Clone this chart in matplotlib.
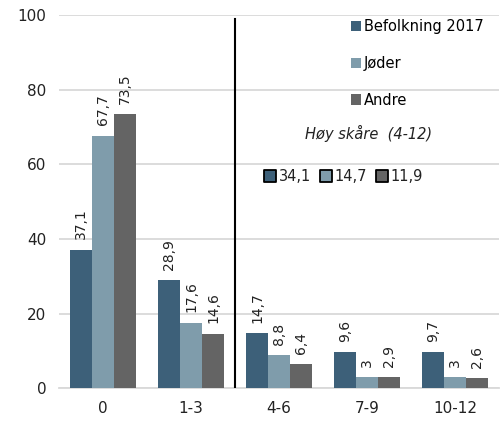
import numpy as np
import matplotlib
matplotlib.use('Agg')
import matplotlib.pyplot as plt

plt.rcParams['font.family'] = ['DejaVu Sans']

categories = ["0", "1-3", "4-6", "7-9", "10-12"]
series_names = ["Befolkning 2017", "Jøder", "Andre"]
befolkning = [37.1, 28.9, 14.7, 9.6, 9.7]
joder = [67.7, 17.6, 8.8, 3.0, 3.0]
andre = [73.5, 14.6, 6.4, 2.9, 2.6]
high_score = [34.1, 14.7, 11.9]
colors = ["#3d6079", "#7f9cab", "#646464"]


def fmt(v):
    s = f"{v:.1f}".replace(".", ",")
    if s.endswith(",0"):
        s = s[:-2]
    return s


fig = plt.figure(figsize=(5.0, 4.21), dpi=100)
ax = fig.add_axes([0.118, 0.078, 0.88, 0.886])

x = np.arange(len(categories))
w = 0.25
for i, (vals, name) in enumerate(zip([befolkning, joder, andre], series_names)):
    pos = x + (i - 1) * w
    ax.bar(pos, vals, width=w, color=colors[i], label=name, zorder=3)
    for px, v in zip(pos, vals):
        ax.text(px, v + 2.8, fmt(v), rotation=90, ha="center", va="bottom",
                fontsize=10, color="#222222")

ax.set_xlim(-0.5, len(categories) - 0.5)
ax.set_ylim(0, 100)
ax.set_yticks(range(0, 101, 20))
ax.set_xticks(x)
ax.set_xticklabels(categories)
ax.tick_params(length=0, labelsize=11, colors="#222222")
ax.tick_params(axis="x", pad=9)
ax.tick_params(axis="y", pad=9)
ax.grid(axis="y", color="#d9d9d9", linewidth=1.3, zorder=0)
for s in ["top", "right", "left"]:
    ax.spines[s].set_visible(False)
ax.spines["bottom"].set_color("#d9d9d9")
ax.spines["bottom"].set_linewidth(1.3)

# divider between low and high score
ax.plot([1.5, 1.5], [0, 99], color="black", linewidth=1.5, zorder=4)

ax.legend(loc="upper right", bbox_to_anchor=(0.995, 1.025), frameon=False,
          fontsize=10.5, handlelength=0.7, handleheight=0.7, handletextpad=0.2,
          labelspacing=1.5)

ax.text(3.02, 68.4, "Høy skåre  (4-12)", style="italic", fontsize=10.5,
        ha="center", va="center", color="#222222")
sq_x = [1.9, 2.535, 3.17]
for sx, v, c in zip(sq_x, high_score, colors):
    ax.scatter([sx], [56.8], marker="s", s=80, color=c, edgecolors="black",
               linewidths=1.3, zorder=5)
    ax.text(sx + 0.1, 56.8, fmt(v), fontsize=10.5, ha="left", va="center",
            color="#222222")

fig.savefig("out.png", dpi=100)
